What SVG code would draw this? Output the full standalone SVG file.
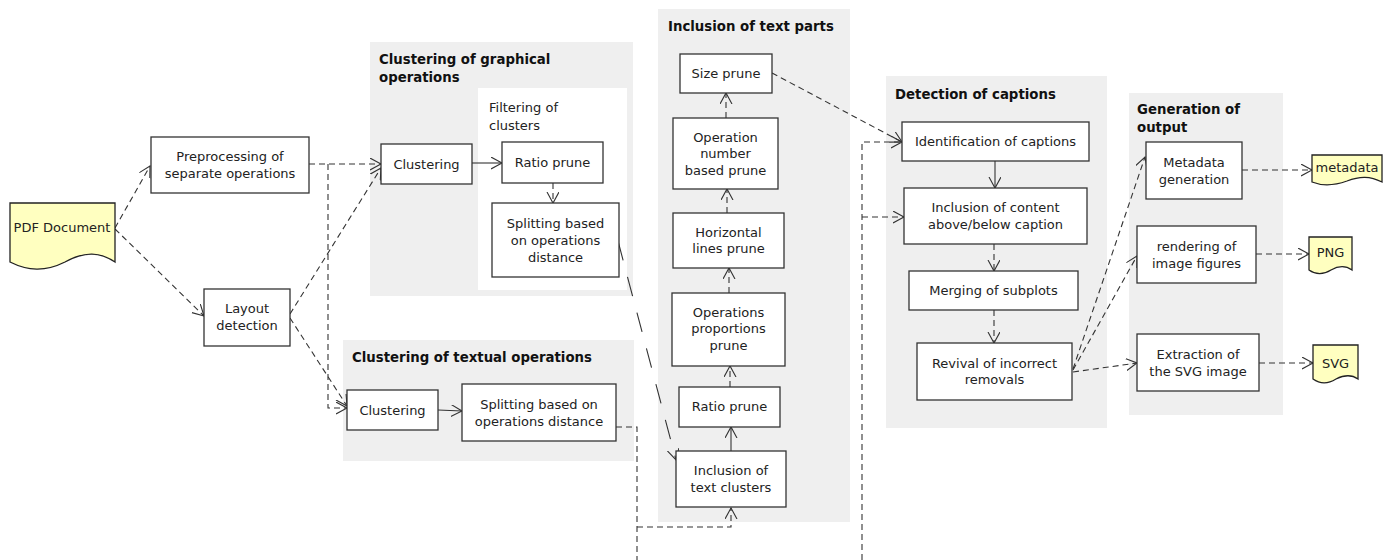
<svg xmlns="http://www.w3.org/2000/svg" width="1390" height="560" viewBox="0 0 1390 560">
<style>
.grp{fill:#efefef;stroke:none}
.inner{fill:#ffffff;stroke:none}
.box{fill:#ffffff;stroke:#333333;stroke-width:1.3}
.doc{fill:#ffffc0;stroke:#222222;stroke-width:1.3}
text{font-family:"DejaVu Sans","Liberation Sans",sans-serif;font-size:13px;fill:#222222}
.t{text-anchor:middle}
.title{font-weight:bold;fill:#111111;font-size:13.3px}
.dash{fill:none;stroke:#333333;stroke-width:1.1;stroke-dasharray:6 4}
.long{fill:none;stroke:#333333;stroke-width:1.1;stroke-dasharray:20 17}
.solid{fill:none;stroke:#333333;stroke-width:1.1}
</style>
<defs>
<marker id="arr" markerUnits="userSpaceOnUse" markerWidth="14" markerHeight="14" refX="11" refY="6" orient="auto">
<path d="M0,0 L11,6 L0,12" fill="none" stroke="#333333" stroke-width="1.1"/>
</marker>
</defs>

<g id="groups">
<g id="grp-graphical">
<rect class="grp" x="370" y="42" width="263" height="254"/>
<text class="title" x="379" y="64">Clustering of graphical</text>
<text class="title" x="379" y="82">operations</text>
<rect class="inner" x="478" y="88" width="149" height="202"/>
<text x="489" y="112">Filtering of</text>
<text x="489" y="130">clusters</text>
</g>
<g id="grp-textual">
<rect class="grp" x="343" y="340" width="291" height="121"/>
<text class="title" x="352" y="362">Clustering of textual operations</text>
</g>
<g id="grp-inclusion">
<rect class="grp" x="658" y="9" width="192" height="513"/>
<text class="title" x="668" y="31">Inclusion of text parts</text>
</g>
<g id="grp-captions">
<rect class="grp" x="886" y="76" width="221" height="352"/>
<text class="title" x="895" y="99">Detection of captions</text>
</g>
<g id="grp-output">
<rect class="grp" x="1129" y="93" width="154" height="322"/>
<text class="title" x="1137" y="114">Generation of</text>
<text class="title" x="1137" y="132">output</text>
</g>
</g>

<g id="connectors">
<line class="dash" x1="115" y1="228" x2="150" y2="166" marker-end="url(#arr)"/>
<line class="dash" x1="115" y1="229" x2="204" y2="316" marker-end="url(#arr)"/>
<line class="dash" x1="309" y1="164" x2="381" y2="164" marker-end="url(#arr)"/>
<polyline class="dash" points="328,164 328,408 347,408" marker-end="url(#arr)"/>
<line class="dash" x1="290" y1="314" x2="381" y2="168" marker-end="url(#arr)"/>
<line class="dash" x1="290" y1="318" x2="347" y2="406" marker-end="url(#arr)"/>
<line class="solid" x1="472" y1="163" x2="502" y2="163" marker-end="url(#arr)"/>
<line class="dash" x1="553" y1="183" x2="553" y2="203" marker-end="url(#arr)"/>
<line class="solid" x1="438" y1="410" x2="462" y2="411" marker-end="url(#arr)"/>
<line class="long" x1="618" y1="241" x2="676" y2="460" marker-end="url(#arr)"/>
<polyline class="dash" points="616,427 637,427 637,560"/>
<polyline class="dash" points="637,527 731,527 731,508" marker-end="url(#arr)"/>
<line class="solid" x1="731" y1="451" x2="731" y2="427" marker-end="url(#arr)"/>
<line class="dash" x1="730" y1="387" x2="730" y2="366" marker-end="url(#arr)"/>
<line class="dash" x1="729" y1="293" x2="729" y2="268" marker-end="url(#arr)"/>
<line class="dash" x1="727" y1="213" x2="727" y2="189" marker-end="url(#arr)"/>
<line class="dash" x1="726" y1="118" x2="726" y2="93" marker-end="url(#arr)"/>
<line class="dash" x1="772" y1="73" x2="902" y2="142" marker-end="url(#arr)"/>
<polyline class="dash" points="862,560 862,142 902,142" marker-end="url(#arr)"/>
<polyline class="dash" points="862,217 904,217" marker-end="url(#arr)"/>
<line class="solid" x1="995" y1="161" x2="995" y2="188" marker-end="url(#arr)"/>
<line class="dash" x1="994" y1="244" x2="994" y2="271" marker-end="url(#arr)"/>
<line class="dash" x1="994" y1="310" x2="994" y2="343" marker-end="url(#arr)"/>
<line class="dash" x1="1073" y1="369" x2="1145" y2="157" marker-end="url(#arr)"/>
<line class="dash" x1="1073" y1="370" x2="1137" y2="256" marker-end="url(#arr)"/>
<line class="dash" x1="1073" y1="372" x2="1137" y2="363" marker-end="url(#arr)"/>
<line class="dash" x1="1242" y1="170" x2="1312" y2="170" marker-end="url(#arr)"/>
<line class="dash" x1="1256" y1="254" x2="1309" y2="254" marker-end="url(#arr)"/>
<line class="dash" x1="1259" y1="363" x2="1313" y2="363" marker-end="url(#arr)"/>
</g>

<g id="pdf">
<path class="doc" d="M10,203 H115 V262 C100,252 85,251 65,262 C45,272 28,271 10,262 Z"/>
<text class="t" x="62" y="232">PDF Document</text>
</g>
<g id="preprocessing">
<rect class="box" x="151" y="137" width="158" height="56"/>
<text class="t" x="230" y="161">Preprocessing of</text>
<text class="t" x="230" y="178">separate operations</text>
</g>
<g id="layout">
<rect class="box" x="204" y="289" width="86" height="57"/>
<text class="t" x="247" y="313">Layout</text>
<text class="t" x="247" y="330">detection</text>
</g>
<g id="clustering-graphical">
<rect class="box" x="381" y="144" width="91" height="40"/>
<text class="t" x="426.5" y="168.5">Clustering</text>
</g>
<g id="ratio-prune-1">
<rect class="box" x="502" y="142" width="101" height="41"/>
<text class="t" x="552.5" y="167">Ratio prune</text>
</g>
<g id="splitting-graphical">
<rect class="box" x="492" y="203" width="127" height="74"/>
<text class="t" x="555.5" y="227.5">Splitting based</text>
<text class="t" x="555.5" y="244.5">on operations</text>
<text class="t" x="555.5" y="261.5">distance</text>
</g>
<g id="clustering-textual">
<rect class="box" x="347" y="390" width="91" height="40"/>
<text class="t" x="392.5" y="414.5">Clustering</text>
</g>
<g id="splitting-textual">
<rect class="box" x="462" y="384" width="154" height="57"/>
<text class="t" x="539" y="408.5">Splitting based on</text>
<text class="t" x="539" y="425.5">operations distance</text>
</g>
<g id="size-prune">
<rect class="box" x="680" y="54" width="92" height="39"/>
<text class="t" x="726" y="78">Size prune</text>
</g>
<g id="operation-number">
<rect class="box" x="673" y="118" width="105" height="71"/>
<text class="t" x="725.5" y="141.5">Operation</text>
<text class="t" x="725.5" y="158">number</text>
<text class="t" x="725.5" y="175">based prune</text>
</g>
<g id="horizontal-lines">
<rect class="box" x="673" y="213" width="111" height="55"/>
<text class="t" x="728.5" y="236.5">Horizontal</text>
<text class="t" x="728.5" y="253">lines prune</text>
</g>
<g id="operations-proportions">
<rect class="box" x="672" y="293" width="113" height="73"/>
<text class="t" x="728.5" y="316.5">Operations</text>
<text class="t" x="728.5" y="333">proportions</text>
<text class="t" x="728.5" y="349.5">prune</text>
</g>
<g id="ratio-prune-2">
<rect class="box" x="679" y="387" width="101" height="40"/>
<text class="t" x="729.5" y="411">Ratio prune</text>
</g>
<g id="inclusion-text-clusters">
<rect class="box" x="676" y="451" width="110" height="56"/>
<text class="t" x="731" y="474.5">Inclusion of</text>
<text class="t" x="731" y="491.5">text clusters</text>
</g>
<g id="identification">
<rect class="box" x="902" y="122" width="187" height="39"/>
<text class="t" x="995.5" y="145.5">Identification of captions</text>
</g>
<g id="inclusion-content">
<rect class="box" x="904" y="188" width="183" height="56"/>
<text class="t" x="995.5" y="211.5">Inclusion of content</text>
<text class="t" x="995.5" y="228.5">above/below caption</text>
</g>
<g id="merging">
<rect class="box" x="909" y="271" width="169" height="39"/>
<text class="t" x="993.5" y="294.5">Merging of subplots</text>
</g>
<g id="revival">
<rect class="box" x="917" y="343" width="155" height="57"/>
<text class="t" x="994.5" y="367.5">Revival of incorrect</text>
<text class="t" x="994.5" y="384">removals</text>
</g>
<g id="metadata-generation">
<rect class="box" x="1146" y="142" width="96" height="57"/>
<text class="t" x="1194" y="166.5">Metadata</text>
<text class="t" x="1194" y="183.5">generation</text>
</g>
<g id="rendering">
<rect class="box" x="1137" y="226" width="119" height="57"/>
<text class="t" x="1196.5" y="250.5">rendering of</text>
<text class="t" x="1196.5" y="267.5">image figures</text>
</g>
<g id="extraction">
<rect class="box" x="1137" y="334" width="122" height="57"/>
<text class="t" x="1198" y="358.5">Extraction of</text>
<text class="t" x="1198" y="375.5">the SVG image</text>
</g>
<g id="metadata-doc">
<path class="doc" d="M1312,155 H1382 V182 C1370,176 1360,176 1347,181 C1333,186 1322,186 1312,182 Z"/>
<text class="t" x="1347" y="171.5">metadata</text>
</g>
<g id="png-doc">
<path class="doc" d="M1309,237 H1352 V270 C1345,265 1338,266 1331,270 C1323,275 1316,275 1309,270 Z"/>
<text class="t" x="1330.5" y="256.5">PNG</text>
</g>
<g id="svg-doc">
<path class="doc" d="M1313,345 H1358 V379 C1351,374 1344,375 1336,379 C1328,384 1320,384 1313,379 Z"/>
<text class="t" x="1335.5" y="367.5">SVG</text>
</g>
</svg>
